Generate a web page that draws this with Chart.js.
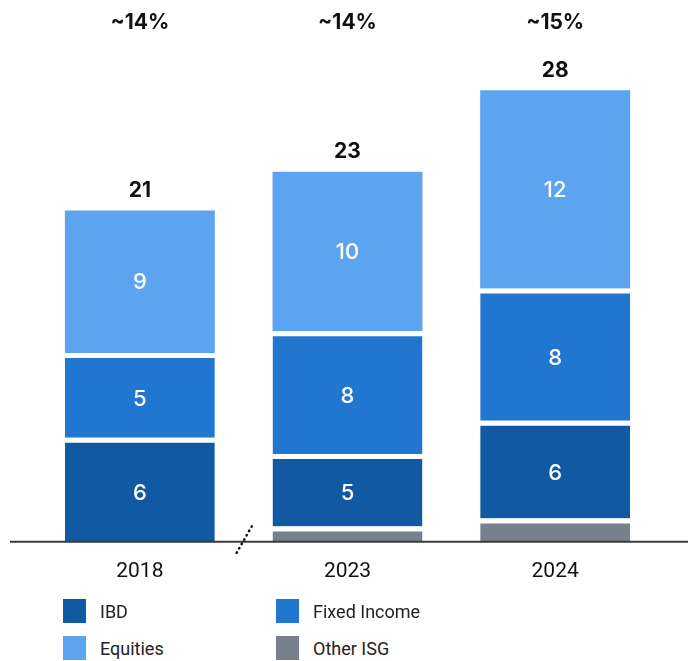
<!DOCTYPE html>
<html>
<head>
<meta charset="utf-8">
<script src="https://cdn.jsdelivr.net/npm/chart.js@4"></script>
<style>
  body { margin: 0; background: #fff; font-family: Roboto, sans-serif; }
  #wrap { position: relative; width: 688px; height: 661px; }
  #chart { position: absolute; left: 0; top: 0; }
  .legend-item { position: absolute; display: flex; align-items: center; font-size: 18px; color: #222; }
  .legend-item span { display: inline-block; width: 23px; height: 24px; margin-right: 14px; }
</style>
</head>
<body>
<div id="wrap">
  <canvas id="chart" width="688" height="602"></canvas>
  <div id="legend"></div>
</div>
<script>
// Years
const years = ["2018", "2023", "2024"];

// Revenue by segment
const otherIsg = [0, 0.95, 1.45];
const ibd = [6.45, 4.5, 6.05];
const fixedIncome = [5.25, 7.6, 8.2];
const equities = [8.85, 9.9, 12.3];

// Labels printed in the chart
const ibdLabels = ["6", "5", "6"];
const fixedIncomeLabels = ["5", "8", "8"];
const equitiesLabels = ["9", "10", "12"];
const totalLabels = ["21", "23", "28"];
const shareLabels = ["~14%", "~14%", "~15%"];

const colors = {
  ibd: "#1259A3",
  fixed: "#2176D0",
  equities: "#5CA4EF",
  other: "#78808D"
};

const gap = 5;

const barLabels = {
  id: "barLabels",
  afterDatasetsDraw(chart) {
    const ctx = chart.ctx;
    const area = chart.chartArea;
    const xs = chart.scales.x;

    // axis line across the whole width
    ctx.save();
    ctx.strokeStyle = "#3a3a3a";
    ctx.lineWidth = 2;
    ctx.beginPath();
    ctx.moveTo(10, area.bottom);
    ctx.lineTo(chart.width, area.bottom);
    ctx.stroke();

    // axis break between 2018 and 2023
    const bx = (xs.getPixelForValue(0) + xs.getPixelForValue(1)) / 2 + 1;
    const by = area.bottom - 3;
    ctx.strokeStyle = "#111";
    ctx.lineWidth = 2.5;
    ctx.lineCap = "round";
    ctx.setLineDash([0.5, 4.5]);
    ctx.beginPath();
    ctx.moveTo(bx - 8, by + 14);
    ctx.lineTo(bx + 8, by - 14);
    ctx.stroke();
    ctx.setLineDash([]);

    // values inside segments
    ctx.textAlign = "center";
    ctx.textBaseline = "middle";
    ctx.fillStyle = "#fff";
    ctx.font = "500 22px Inter, Roboto, sans-serif";
    const inner = [[1, ibdLabels, gap], [2, fixedIncomeLabels, gap], [3, equitiesLabels, 0]];
    inner.forEach(([dsIndex, labels, g]) => {
      const meta = chart.getDatasetMeta(dsIndex);
      meta.data.forEach((bar, i) => {
        ctx.fillText(labels[i], bar.x, (bar.y + g + bar.base) / 2 + 1);
      });
    });

    // totals and shares
    const top = chart.getDatasetMeta(3);
    ctx.fillStyle = "#111";
    ctx.font = "bold 21px Inter, Roboto, sans-serif";
    top.data.forEach((bar, i) => {
      ctx.fillText(totalLabels[i], bar.x, bar.y - 20);
      ctx.fillText(shareLabels[i], bar.x, 23);
    });
    ctx.restore();
  }
};

const ctx = document.getElementById("chart").getContext("2d");
new Chart(ctx, {
  type: "bar",
  data: {
    labels: years,
    datasets: [
      { label: "Other ISG", data: otherIsg, backgroundColor: colors.other },
      { label: "IBD", data: ibd, backgroundColor: colors.ibd },
      { label: "Fixed Income", data: fixedIncome, backgroundColor: colors.fixed },
      { label: "Equities", data: equities, backgroundColor: colors.equities }
    ].map((d, i) => Object.assign(d, {
      borderColor: "#fff",
      borderWidth: i < 3 ? { top: gap, bottom: 0, left: 0, right: 0 } : 0,
      borderSkipped: false,
      categoryPercentage: 1,
      barPercentage: 0.722
    }))
  },
  options: {
    responsive: false,
    animation: false,
    layout: { padding: { left: 36, right: 29, top: 58, bottom: 9 } },
    plugins: { legend: { display: false }, tooltip: { enabled: false } },
    scales: {
      x: {
        stacked: true,
        grid: { display: false },
        border: { display: false },
        ticks: { color: "#111", padding: 9, font: { family: "Roboto", size: 21 } }
      },
      y: {
        stacked: true,
        display: false,
        min: 0,
        max: 30
      }
    }
  },
  plugins: [barLabels]
});

// legend, 2 x 2 grid
const legendItems = [
  ["IBD", colors.ibd, 63, 599],
  ["Fixed Income", colors.fixed, 276, 599],
  ["Equities", colors.equities, 63, 636],
  ["Other ISG", colors.other, 276, 636]
];
const legend = document.getElementById("legend");
legendItems.forEach(([name, color, left, top]) => {
  const div = document.createElement("div");
  div.className = "legend-item";
  div.style.left = left + "px";
  div.style.top = top + "px";
  div.innerHTML = `<span style="background:${color}"></span>${name}`;
  legend.appendChild(div);
});
</script>
</body>
</html>
